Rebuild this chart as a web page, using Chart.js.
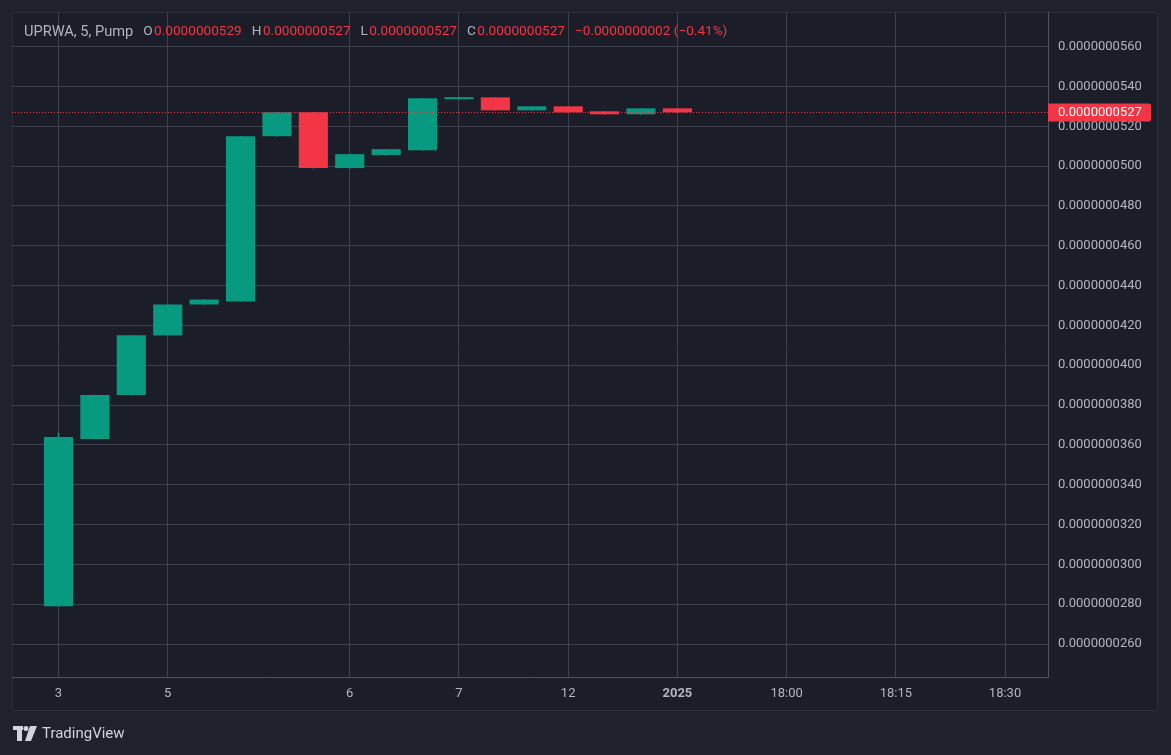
<!DOCTYPE html>
<html>
<head>
<meta charset="utf-8">
<script src="https://cdn.jsdelivr.net/npm/chart.js@4.4.1/dist/chart.umd.min.js"></script>
<style>
  html, body { margin: 0; padding: 0; background: #1f222d; }
  canvas { display: block; }
</style>
</head>
<body>
<canvas id="chart" width="1171" height="755"></canvas>
<script>
// ─── Data (prices in units of 1e-10) ─────────────────────────────────────────
const opens  = [279, 363, 385, 415, 430.5, 432, 515, 527, 499, 505.5, 508, 533.6, 534.5, 528, 530, 527.5, 526, 529];
const closes = [364, 385, 415, 430.5, 433, 515, 527, 499, 506, 508.5, 534, 534.6, 528, 530, 527, 526, 529, 527];
const highs  = [366, 385, 415, 430.5, 433, 515, 527, 527, 506, 508.5, 534, 534.6, 534.5, 530, 530, 527.5, 529, 529];
const lows   = [279, 363, 385, 415, 430.5, 432, 515, 499, 499, 505.5, 508, 533.6, 528, 528, 527, 526, 526, 527];

const timeLabels = ['3', '5', '6', '7', '12', '2025', '18:00', '18:15', '18:30'];
const timeSlots  = [0, 3, 8, 11, 14, 17, 20, 23, 26];
const priceTicks = [260, 280, 300, 320, 340, 360, 380, 400, 420, 440, 460, 480, 500, 520, 540, 560];

const headerParts = [
  ['UPRWA, 5, Pump', 'title'], ['O', 'grey'], ['0.0000000529', 'red'],
  ['H', 'grey'], ['0.0000000527', 'red'], ['L', 'grey'], ['0.0000000527', 'red'],
  ['C', 'grey'], ['0.0000000527', 'red'], ['\u22120.0000000002 (\u22120.41%)', 'red'],
];

const UP = '#089981';
const DOWN = '#f23645';
const TEXT = '#b2b5be';
const GRID = '#3f424c';
const SCALE = 1e-10;

const px = v => v * SCALE;
const bodies = opens.map((o, i) => ({ x: i, y: [px(o), px(closes[i])] }));
const wicks = highs.map((h, i) => ({ x: i, y: [px(lows[i]), px(h)] }));
const colors = opens.map((o, i) => (closes[i] >= o ? UP : DOWN));

Chart.defaults.font.family = 'Roboto';
Chart.defaults.font.size = 13;

// frame, header and logo
const framePlugin = {
  id: 'frame',
  beforeDraw(chart) {
    const { ctx } = chart;
    ctx.save();
    ctx.fillStyle = '#1f222d';
    ctx.fillRect(0, 0, chart.width, chart.height);
    ctx.fillStyle = '#1b1e28';
    ctx.fillRect(12, 12, 1145, 699);
    ctx.strokeStyle = '#2a2e39';
    ctx.lineWidth = 1;
    ctx.strokeRect(12.5, 12.5, 1145, 698);
    ctx.restore();
  },
  afterDraw(chart) {
    const { ctx } = chart;
    ctx.save();
    // header
    ctx.textBaseline = 'middle';
    let x = 24;
    headerParts.forEach(([t, c]) => {
      ctx.font = c === 'title' ? '14.6px Roboto' : '13.6px Roboto';
      ctx.fillStyle = c === 'red' ? DOWN : TEXT;
      ctx.fillText(t, x, 32);
      x += ctx.measureText(t).width + (c === 'grey' ? 1.5 : 10);
    });
    // logo
    ctx.fillStyle = '#d1d4dc';
    ctx.fillRect(13, 726, 10, 4);
    ctx.fillRect(17, 726, 5, 15);
    ctx.beginPath();
    ctx.arc(26, 728.5, 2.5, 0, Math.PI * 2);
    ctx.fill();
    ctx.beginPath();
    ctx.moveTo(30, 726); ctx.lineTo(37, 726); ctx.lineTo(31, 741); ctx.lineTo(25, 741);
    ctx.closePath();
    ctx.fill();
    ctx.font = '15px Roboto';
    ctx.fillText('TradingView', 42, 734);
    ctx.restore();
  },
};

// dotted last price line + axis label
const lastPricePlugin = {
  id: 'lastPrice',
  afterDraw(chart) {
    const { ctx, chartArea } = chart;
    const last = closes[closes.length - 1];
    const y = Math.round(chart.scales.y.getPixelForValue(px(last))) + 0.5;
    ctx.save();
    ctx.strokeStyle = DOWN;
    ctx.lineWidth = 1;
    ctx.setLineDash([1, 2]);
    ctx.beginPath();
    ctx.moveTo(chartArea.left, y);
    ctx.lineTo(chartArea.right, y);
    ctx.stroke();
    ctx.setLineDash([]);
    ctx.fillStyle = DOWN;
    ctx.beginPath();
    ctx.roundRect(chartArea.right, y - 9, 103, 18, [0, 2, 2, 0]);
    ctx.fill();
    ctx.fillStyle = '#ffffff';
    ctx.font = '13px Roboto';
    ctx.textBaseline = 'middle';
    ctx.fillText(px(last).toFixed(10), chartArea.right + 10, y);
    ctx.restore();
  },
};

new Chart(document.getElementById('chart'), {
  type: 'bar',
  data: {
    datasets: [
      {
        data: wicks,
        backgroundColor: colors,
        borderWidth: 0,
        barThickness: 1,
        grouped: false,
        order: 2,
      },
      {
        data: bodies,
        backgroundColor: colors,
        borderWidth: 0,
        categoryPercentage: 1,
        barPercentage: 0.8,
        grouped: false,
        order: 1,
      },
    ],
  },
  options: {
    responsive: false,
    animation: false,
    devicePixelRatio: 1,
    layout: { padding: { left: 12, top: 12, right: 14, bottom: 44 } },
    plugins: { legend: { display: false }, tooltip: { enabled: false } },
    scales: {
      x: {
        type: 'linear',
        offset: false,
        min: -1.277,
        max: 27.18,
        afterBuildTicks: (s) => { s.ticks = timeSlots.map(v => ({ value: v })); },
        afterFit: (s) => { s.height = 34; s.paddingLeft = 0; s.paddingRight = 0; },
        grid: { color: GRID, drawTicks: false, offset: false },
        border: { display: true, color: '#50535e' },
        ticks: {
          color: TEXT,
          padding: 9,
          maxRotation: 0,
          autoSkip: false,
          font: (c) => ({ family: 'Roboto', size: 13, weight: c.tick && c.tick.value === 17 ? 'bold' : 'normal' }),
          callback: (v) => timeLabels[timeSlots.indexOf(v)] ?? '',
        },
      },
      y: {
        position: 'right',
        min: px(243.45),
        max: px(577.37),
        afterBuildTicks: (s) => { s.ticks = priceTicks.map(v => ({ value: px(v) })); },
        afterFit: (s) => { s.width = 109; s.paddingTop = 0; s.paddingBottom = 0; },
        grid: { color: GRID, drawTicks: false },
        border: { display: true, color: '#50535e' },
        ticks: {
          color: TEXT,
          padding: 10,
          crossAlign: 'near',
          callback: (v) => v.toFixed(10),
        },
      },
    },
  },
  plugins: [framePlugin, lastPricePlugin],
});
</script>
</body>
</html>
